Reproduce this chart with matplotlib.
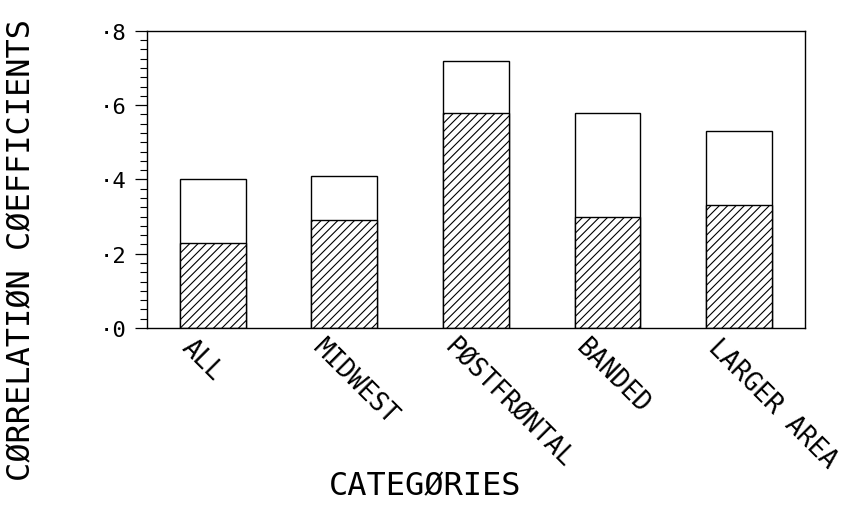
import matplotlib.pyplot as plt
from matplotlib.ticker import MultipleLocator

# correlation coefficients per storm category
categories = ['ALL', 'MIDWEST', 'PØSTFRØNTAL', 'BANDED', 'LARGER AREA']
total_corr = [0.40, 0.41, 0.72, 0.58, 0.53]
hatched_corr = [0.23, 0.29, 0.58, 0.30, 0.33]
ytick_vals = [0.0, 0.2, 0.4, 0.6, 0.8]
ytick_labels = ['·0', '·2', '·4', '·6', '·8']

plt.rcParams['font.family'] = 'DejaVu Sans Mono'
plt.rcParams['hatch.linewidth'] = 0.8

fig = plt.figure(figsize=(8.54, 5.10), dpi=100)
ax = fig.add_axes([0.172, 0.355, 0.7706, 0.5824])

x = list(range(len(categories)))
ax.bar(x, total_corr, width=0.5, color='white', edgecolor='black', linewidth=1.0)
ax.bar(x, hatched_corr, width=0.5, color='white', edgecolor='black',
       linewidth=1.0, hatch='////')

ax.set_xlim(-0.5, 4.5)
ax.set_ylim(0, 0.8)

ax.set_yticks(ytick_vals)
ax.set_yticklabels(ytick_labels, fontsize=16)
ax.yaxis.set_minor_locator(MultipleLocator(0.025))
ax.tick_params(axis='y', which='major', direction='out', length=9, width=0.9, pad=6)
ax.tick_params(axis='y', which='minor', direction='out', length=5, width=0.8)

ax.set_xticks([])
for i, lab in enumerate(categories):
    ax.text(i - 0.14, -0.015, lab, rotation=-45, rotation_mode='anchor',
            ha='left', va='top', fontsize=18.5)

for s in ax.spines.values():
    s.set_linewidth(1.0)

fig.text(22 / 854, 0.51, 'CØRRELATIØN CØEFFICIENTS', rotation=90,
         ha='center', va='center', fontsize=23)
fig.text(425 / 854, 1 - 487 / 510, 'CATEGØRIES', ha='center', va='center',
         fontsize=23)

fig.savefig('out.png', dpi=100)
